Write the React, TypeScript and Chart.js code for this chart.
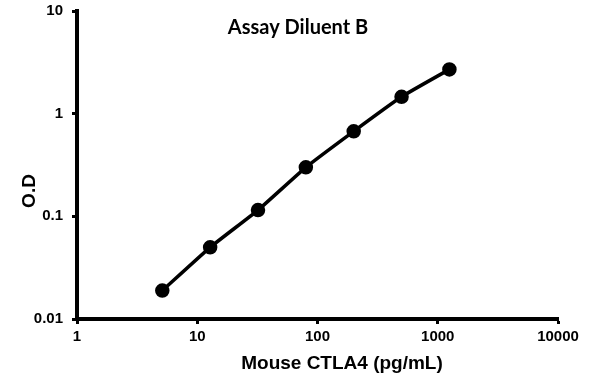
import React, { useEffect, useRef } from "react";
import { Chart, registerables } from "chart.js";

Chart.register(...registerables);

const concentrations = [5.12, 12.8, 32, 80, 200, 500, 1250];
const odValues = [0.0189, 0.0499, 0.115, 0.3, 0.673, 1.46, 2.7];
const xTicks = [1, 10, 100, 1000, 10000];
const yTicks = [0.01, 0.1, 1, 10];
const chartTitle = "Assay Diluent B";
const xTitle = "Mouse CTLA4 (pg/mL)";
const yTitle = "O.D";

const titlesPlugin = {
  id: "customTitles",
  afterDraw(chart: any) {
    const ctx = chart.ctx;
    ctx.save();
    ctx.fillStyle = "#000";
    ctx.textAlign = "center";
    ctx.textBaseline = "middle";
    ctx.font = "bold 20px Lato, 'Open Sans', sans-serif";
    ctx.fillText(chartTitle, 298, 28);
    ctx.font = "bold 19px 'Liberation Sans', Arial, sans-serif";
    ctx.fillText(xTitle, 342, 364);
    ctx.translate(30, 191);
    ctx.rotate(-Math.PI / 2);
    ctx.fillText(yTitle, 0, 0);
    ctx.restore();
  },
};

export default function App() {
  const ref = useRef<HTMLCanvasElement | null>(null);
  useEffect(() => {
    if (!ref.current) return;
    const tickFont = { family: "'Liberation Sans', Arial, sans-serif", size: 15, weight: "bold" as const };
    const chart = new Chart(ref.current, {
      type: "line",
      data: {
        datasets: [
          {
            data: concentrations.map((x, i) => ({ x, y: odValues[i] })),
            borderColor: "#000",
            backgroundColor: "#000",
            borderWidth: 3.5,
            pointRadius: 5.5,
            pointBackgroundColor: "#000",
            pointBorderColor: "#000",
            tension: 0.15,
            fill: false,
          },
        ],
      },
      options: {
        responsive: false,
        animation: false,
        layout: { padding: { top: 11, right: 37, left: 0, bottom: 0 } },
        plugins: { legend: { display: false }, tooltip: { enabled: false }, title: { display: false } },
        scales: {
          x: {
            type: "logarithmic",
            min: 1,
            max: 10000,
            afterBuildTicks: (s: any) => {
              s.ticks = xTicks.map((v) => ({ value: v }));
            },
            afterFit: (s: any) => {
              s.height = 384 - 319;
              s.paddingLeft = 0;
              s.paddingRight = 0;
            },
            ticks: {
              color: "#000",
              font: tickFont,
              padding: 4,
              maxRotation: 0,
              autoSkip: false,
              callback: (v: any) => String(v),
            },
            grid: { display: true, drawOnChartArea: false, drawTicks: true, tickLength: 5, tickWidth: 3, tickColor: "#000", color: "#000" },
            border: { display: true, width: 4, color: "#000" },
          },
          y: {
            type: "logarithmic",
            min: 0.01,
            max: 10,
            afterBuildTicks: (s: any) => {
              s.ticks = yTicks.map((v) => ({ value: v }));
            },
            afterFit: (s: any) => {
              s.width = 77;
              s.paddingTop = 0;
              s.paddingBottom = 0;
            },
            ticks: {
              color: "#000",
              font: tickFont,
              padding: 9,
              autoSkip: false,
              callback: (v: any) => String(v),
            },
            grid: { display: true, drawOnChartArea: false, drawTicks: true, tickLength: 5, tickWidth: 3, tickColor: "#000", color: "#000" },
            border: { display: true, width: 4, color: "#000" },
          },
        },
      },
      plugins: [titlesPlugin],
    });
    return () => chart.destroy();
  }, []);
  return (
    <div style={{ position: "absolute", left: 0, top: 0, width: 595, height: 384, background: "#fff" }}>
      <canvas ref={ref} width={595} height={384} style={{ width: 595, height: 384 }} />
    </div>
  );
}
